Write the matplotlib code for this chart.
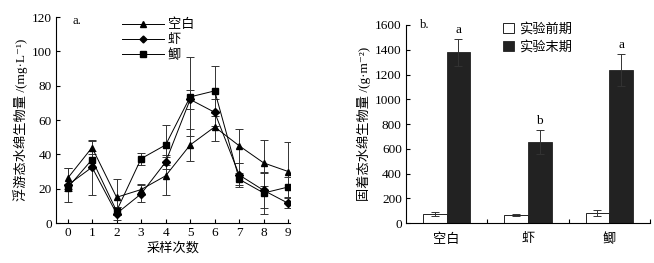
import numpy as np
import matplotlib
matplotlib.use("Agg")
import matplotlib.pyplot as plt
from matplotlib.lines import Line2D
from matplotlib.patches import Patch

plt.rcParams['font.family'] = ['Liberation Serif', 'Noto Sans CJK SC', 'DejaVu Sans']
plt.rcParams['font.size'] = 9
plt.rcParams['axes.unicode_minus'] = False

# left panel: planktonic biomass
samples = np.arange(10)
kongbai = [26, 44, 15, 19.5, 27.5, 45.5, 56, 45, 35, 30]
kongbai_err = [6, 4, 10.5, 3, 11, 9.5, 8, 10, 13.5, 17.5]
xia = [22, 32.5, 5.5, 17, 35.5, 72, 64.5, 28, 19, 11.5]
xia_err = [10, 16, 4, 5, 4, 5.5, 8, 7, 10, 3]
ji = [20.5, 37, 7, 37.5, 45.5, 73.5, 77, 25.5, 17.5, 21]
ji_err = [2, 5, 2.5, 3.5, 11.5, 23, 14.5, 3.5, 12, 6]

# right panel: attached biomass
groups = ['空白', '虾', '鲫']
pre = [75, 68, 80]
pre_err = [15, 10, 25]
post = [1380, 655, 1235]
post_err = [110, 95, 130]
sig = ['a', 'b', 'a']

fig = plt.figure(figsize=(6.54, 2.63), dpi=100)

ax1 = fig.add_axes([0.0856, 0.152, 0.3578, 0.783])
series = [(kongbai, kongbai_err, '^', '空白'), (xia, xia_err, 'D', '虾'), (ji, ji_err, 's', '鲫')]
for vals, errs, mk, lab in series:
    ms = 4.5 if mk != 'D' else 3.8
    ax1.errorbar(samples, vals, yerr=errs, color='black', ecolor='#333333', lw=0.7,
                 elinewidth=0.7, capsize=3, capthick=0.7, marker=mk, ms=ms, label=lab)
ax1.set_xlim(-0.47, 9.07)
ax1.set_ylim(0, 120)
ax1.set_xticks(samples)
ax1.set_yticks(np.arange(0, 121, 20))
ax1.tick_params(direction='in', length=3, width=0.8, labelsize=9.5, pad=3)
for s in ['top', 'right']:
    ax1.spines[s].set_visible(False)
ax1.set_xlabel('采样次数', fontsize=9.5, labelpad=2)
ax1.set_ylabel('浮游态水绵生物量 /(mg·L⁻¹)', fontsize=9.5, labelpad=3)
ax1.text(0.072, 0.98, 'a.', transform=ax1.transAxes, fontsize=9, va='center')
handles = [Line2D([0], [0], color='black', lw=0.7, marker=mk, ms=4 if mk != 'D' else 3.5)
           for _, _, mk, _ in series]
ax1.legend(handles, [s[3] for s in series], loc='upper left', bbox_to_anchor=(0.23, 1.05),
           frameon=False, handlelength=3.2, handletextpad=0.3, labelspacing=0.2, fontsize=9.5)

ax2 = fig.add_axes([0.6208, 0.151, 0.373, 0.754])
x = np.arange(len(groups))
w = 0.29
ax2.bar(x - w / 2, pre, w, yerr=pre_err, color='white', edgecolor='black', lw=0.6,
        error_kw=dict(elinewidth=0.7, capsize=3, capthick=0.7, ecolor='#333333'))
ax2.bar(x + w / 2, post, w, yerr=post_err, color='#222222', edgecolor='#222222', lw=0.6,
        error_kw=dict(elinewidth=0.7, capsize=3, capthick=0.7, ecolor='#333333'))
for xi, v, e, s in zip(x, post, post_err, sig):
    ax2.text(xi + w / 2, v + e + 25, s, ha='center', va='bottom', fontsize=9.5)
ax2.set_xlim(-0.5, 2.5)
ax2.set_ylim(0, 1600)
ax2.set_yticks(np.arange(0, 1601, 200))
ax2.set_xticks(x)
ax2.set_xticklabels(groups, fontsize=9.5)
ax2.set_xticks([0.5, 1.5, 2.5], minor=True)
ax2.tick_params(axis='x', which='major', length=0, pad=7)
ax2.tick_params(axis='x', which='minor', direction='in', length=3, width=0.8)
ax2.tick_params(axis='y', direction='in', length=3, width=0.8, labelsize=9.5, pad=3)
for s in ['top', 'right']:
    ax2.spines[s].set_visible(False)
ax2.set_ylabel('固着态水绵生物量 /(g·m⁻²)', fontsize=9.5, labelpad=3)
ax2.text(0.056, 1.0, 'b.', transform=ax2.transAxes, fontsize=9, va='center')
bh = [Patch(facecolor='white', edgecolor='black', lw=0.6),
      Patch(facecolor='#222222', edgecolor='#222222', lw=0.6)]
ax2.legend(bh, ['实验前期', '实验末期'], loc='upper left', bbox_to_anchor=(0.35, 1.07),
           frameon=False, handlelength=0.8, handleheight=0.8, handletextpad=0.4,
           labelspacing=0.35, fontsize=9.5)

fig.savefig('out.png', dpi=100)
